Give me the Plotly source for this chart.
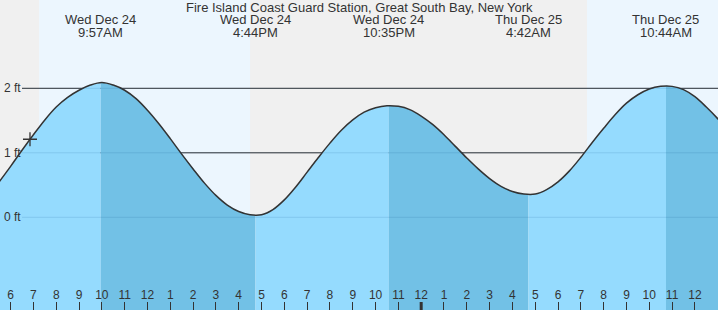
import plotly.graph_objects as go

# ---- data (hours since Wed Dec 24 00:00, height in ft) ----
tide_hours = [5.5, 6.0, 6.5, 7.0, 7.5, 8.0, 8.5, 9.0, 9.5, 10.0,
              10.5, 11.0, 11.5, 12.0, 12.5, 13.0, 13.5, 14.0, 14.5, 15.0,
              15.5, 16.0, 16.5, 17.0, 17.5, 18.0, 18.5, 19.0, 19.5, 20.0,
              20.5, 21.0, 21.5, 22.0, 22.5, 23.0, 23.5, 24.0, 24.5, 25.0,
              25.5, 26.0, 26.5, 27.0, 27.5, 28.0, 28.5, 29.0, 29.5, 30.0,
              30.5, 31.0, 31.5, 32.0, 32.5, 33.0, 33.5, 34.0, 34.5, 35.0,
              35.5, 36.0, 36.5, 37.0, 37.5]
tide_ft = [0.55, 0.79, 1.04, 1.28, 1.51, 1.71, 1.86, 1.97, 2.05, 2.09,
           2.05, 1.97, 1.84, 1.66, 1.45, 1.22, 0.98, 0.75, 0.53, 0.34,
           0.19, 0.09, 0.04, 0.04, 0.12, 0.27, 0.47, 0.70, 0.93, 1.15,
           1.35, 1.51, 1.63, 1.70, 1.73, 1.72, 1.67, 1.57, 1.44, 1.28,
           1.10, 0.92, 0.75, 0.60, 0.48, 0.40, 0.36, 0.36, 0.43, 0.55,
           0.72, 0.93, 1.16, 1.38, 1.59, 1.77, 1.90, 1.99, 2.03, 2.03,
           1.98, 1.87, 1.71, 1.53, 1.33]

event_hours = [9.95, 16.733, 22.583, 28.70, 34.733]
event_ft = [2.09, 0.03, 1.73, 0.35, 2.04]
event_kind = ["H", "L", "H", "L", "H"]
event_day = ["Wed Dec 24", "Wed Dec 24", "Wed Dec 24", "Thu Dec 25", "Thu Dec 25"]
event_time = ["9:57AM", "4:44PM", "10:35PM", "4:42AM", "10:44AM"]

daylight_start = [7.25, 31.27]
daylight_end = [16.50, 38.0]

now_hour = [6.85]
now_ft = [1.21]

tick_hours = [6, 7, 8, 9, 10, 11, 12, 13, 14, 15, 16, 17, 18, 19, 20, 21, 22, 23, 24,
              25, 26, 27, 28, 29, 30, 31, 32, 33, 34, 35, 36, 37]
tick_labels = ["6", "7", "8", "9", "10", "11", "12", "1", "2", "3", "4", "5", "6", "7",
               "8", "9", "10", "11", "12", "1", "2", "3", "4", "5", "6", "7", "8", "9",
               "10", "11", "12", "1"]
midnight_hour = 24

grid_ft = [0, 1, 2]
grid_labels = ["0 ft", "1 ft", "2 ft"]

title = "Fire Island Coast Guard Station, Great South Bay, New York"

# ---- style ----
W, H = 718, 310
X_RANGE = [5.535, 37.013]
Y_RANGE = [-1.437, 3.369]
BOTTOM = -3
NIGHT = "#F0F0F0"
DAY = "#ECF6FE"
LIGHT = "#95DBFE"
DARK = "#72C1E6"
INK = "#333333"
FONT = "Liberation Sans"

fig = go.Figure()

# fill polygons: curve points plus the extremes, split at extremes (falling tide darker)
pts = sorted(list(zip(tide_hours, tide_ft)) + list(zip(event_hours, event_ft)))
bounds = [tide_hours[0]] + event_hours + [tide_hours[-1]]
colors = [LIGHT] + [DARK if k == "H" else LIGHT for k in event_kind]
for i in range(len(bounds) - 1):
    t0, t1 = bounds[i], bounds[i + 1]
    xs = [t for t, v in pts if t0 <= t <= t1]
    ys = [v for t, v in pts if t0 <= t <= t1]
    fig.add_trace(go.Scatter(x=[t0, t1], y=[BOTTOM, BOTTOM], mode="lines",
                             line=dict(width=0), hoverinfo="skip", showlegend=False))
    fig.add_trace(go.Scatter(x=xs, y=ys, mode="lines", fill="tonexty",
                             fillcolor=colors[i], line=dict(width=0),
                             hoverinfo="skip", showlegend=False))

fig.add_trace(go.Scatter(x=tide_hours, y=tide_ft, mode="lines",
                         line=dict(color=INK, width=1.5, shape="spline"),
                         showlegend=False))
fig.add_trace(go.Scatter(x=now_hour, y=now_ft, mode="markers",
                         marker=dict(symbol="cross-thin", size=10,
                                     line=dict(color=INK, width=1.3)),
                         showlegend=False))

shapes = []
for a, b in zip(daylight_start, daylight_end):
    shapes.append(dict(type="rect", xref="x", yref="paper", x0=a, x1=b, y0=0, y1=1,
                       fillcolor=DAY, line=dict(width=0), layer="below"))
for g in grid_ft:
    if g > 0:
        shapes.append(dict(type="line", xref="paper", yref="y", x0=22 / W, x1=1,
                           y0=g, y1=g, line=dict(color=INK, width=1), layer="below"))
    shapes.append(dict(type="line", xref="paper", yref="y", x0=22 / W, x1=1,
                       y0=g, y1=g, line=dict(color="rgba(0,70,130,0.13)", width=1),
                       layer="above"))
shapes.append(dict(type="line", xref="x", yref="paper", x0=midnight_hour, x1=midnight_hour,
                   y0=0, y1=8 / H, line=dict(color=INK, width=3)))

ann = [dict(text=title, xref="paper", yref="paper", x=0.5, y=1 - 7.5 / H,
            showarrow=False, yanchor="middle", font=dict(size=13, color=INK, family=FONT))]
for t, d, tm in zip(event_hours, event_day, event_time):
    ann.append(dict(text=d, xref="x", yref="paper", x=t, y=1 - 20 / H, showarrow=False,
                    yanchor="middle", font=dict(size=13, color=INK, family=FONT)))
    ann.append(dict(text=tm, xref="x", yref="paper", x=t, y=1 - 32.5 / H, showarrow=False,
                    yanchor="middle", font=dict(size=13, color=INK, family=FONT)))
for g, lab in zip(grid_ft, grid_labels):
    ann.append(dict(text=lab, xref="paper", yref="y", x=2 / W, y=g, showarrow=False,
                    xanchor="left", yanchor="middle",
                    font=dict(size=12, color=INK, family=FONT)))

fig.update_layout(
    width=W, height=H, margin=dict(l=0, r=0, t=0, b=0),
    paper_bgcolor=NIGHT, plot_bgcolor=NIGHT,
    shapes=shapes, annotations=ann, showlegend=False,
    xaxis=dict(range=X_RANGE, showgrid=False, zeroline=False, showline=False,
               tickmode="array", tickvals=tick_hours, ticktext=tick_labels,
               ticks="inside", ticklen=8, tickcolor=INK, tickwidth=1,
               ticklabelposition="inside",
               tickfont=dict(size=12, color=INK, family=FONT)),
    yaxis=dict(range=Y_RANGE, visible=False),
)

fig.write_html("out.html")
